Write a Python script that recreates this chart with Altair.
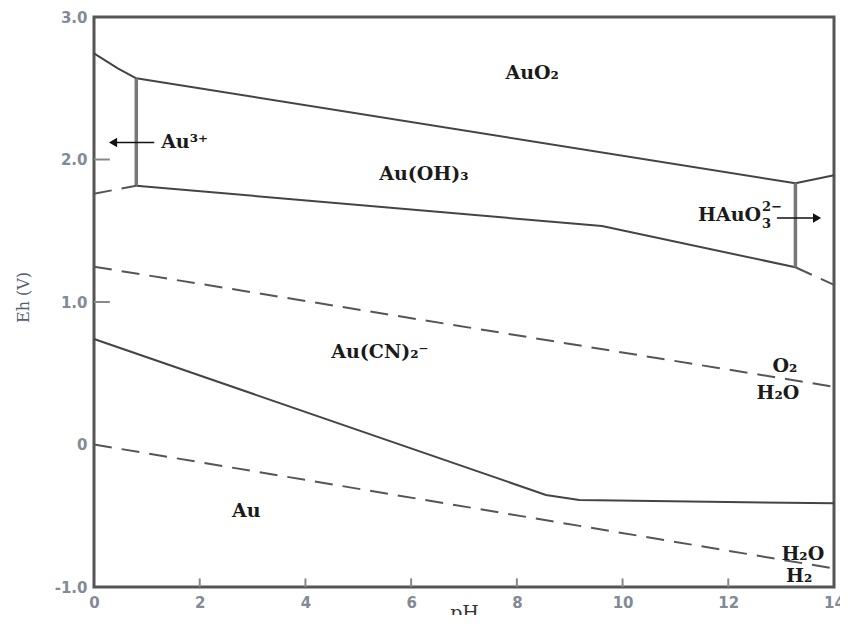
import altair as alt
import pandas as pd

# ---- data ----
x_ticks = [0, 2, 4, 6, 8, 10, 12, 14]
y_ticks = [-1.0, 0.0, 1.0, 2.0, 3.0]
inner_x_ticks = [2, 4, 6, 8, 10, 12]
inner_y_ticks = [1.0, 2.0]

# solid boundaries
solid_lines = {
    "Au3+/AuO2": ([0.0, 0.45, 0.8], [2.745, 2.64, 2.57]),
    "AuOH3/AuO2": ([0.8, 13.27], [2.57, 1.833]),
    "HAuO3/AuO2": ([13.27, 14.0], [1.833, 1.89]),
    "AuOH3/AuCN2": ([0.8, 9.61, 13.27], [1.816, 1.533, 1.244]),
    "AuCN2/Au": ([0.0, 8.55, 9.18, 14.0], [0.74, -0.354, -0.389, -0.413]),
}
# vertical boundaries
vertical_lines = {
    "Au3+/AuOH3": ([0.8, 0.8], [2.57, 1.816]),
    "AuOH3/HAuO3": ([13.27, 13.27], [1.833, 1.244]),
}
# dashed lines
dashed_lines = {
    "Au3+/Au": ([0.0, 0.8], [1.76, 1.816]),
    "HAuO3/Au": ([13.27, 14.0], [1.244, 1.12]),
    "O2/H2O": ([0.0, 14.0], [1.248, 0.405]),
    "H2O/H2": ([0.0, 14.0], [0.0, -0.87]),
}

center_labels = ["AuO₂", "Au(OH)₃", "Au(CN)₂⁻", "O₂", "H₂O", "Au", "H₂O", "H₂"]
center_ph = [8.29, 6.24, 5.41, 13.07, 12.94, 2.88, 13.41, 13.34]
center_eh = [2.61, 1.90, 0.65, 0.55, 0.36, -0.47, -0.77, -0.92]

left_labels = ["Au³⁺"]
left_ph = [1.27]
left_eh = [2.12]

hauo_main = ["HAuO"]
hauo_ph = [12.62]
hauo_eh = [1.61]
hauo_small = ["2−", "3"]
hauo_small_ph = [12.64, 12.64]
hauo_small_eh = [1.667, 1.547]

arrow_shaft_ph = [1.14, 0.42, 12.92, 13.62]
arrow_shaft_eh = [2.12, 2.12, 1.59, 1.59]
arrow_id = ["a", "a", "b", "b"]
arrow_head_ph = [0.36, 13.68]
arrow_head_eh = [2.12, 1.59]
arrow_head_shape = ["triangle-left", "triangle-right"]


def to_frame(d):
    rows = []
    for name, (xs, ys) in d.items():
        for i, (a, b) in enumerate(zip(xs, ys)):
            rows.append({"seg": name, "pH": a, "Eh": b, "ord": i})
    return pd.DataFrame(rows)


x_scale = alt.Scale(domain=[0, 14], nice=False, zero=False)
y_scale = alt.Scale(domain=[-1, 3], nice=False, zero=False)

X = alt.X("pH:Q", scale=x_scale,
          axis=alt.Axis(title="pH", values=x_ticks, grid=False, ticks=False, domain=False,
                        labelFont="DejaVu Sans", labelFontWeight="bold", labelFontSize=15,
                        labelColor="#828a96", labelPadding=8, labelFlush=False,
                        titleFont="DejaVu Serif", titleFontSize=19, titleColor="#333333",
                        titleFontWeight="normal", titleBaseline="top", titleY=16))
Y = alt.Y("Eh:Q", scale=y_scale,
          axis=alt.Axis(title="Eh (V)", values=y_ticks, grid=False, ticks=False, domain=False,
                        labelExpr="datum.value == 0 ? '0' : (datum.value < 0 ? '-' : '') + format(abs(datum.value), '.1f')",
                        labelFont="DejaVu Sans", labelFontWeight="bold", labelFontSize=15,
                        labelColor="#828a96", labelPadding=7, labelFlush=False,
                        titleFont="DejaVu Serif", titleFontSize=16, titleColor="#555f70",
                        titleFontWeight="normal", titleX=-63, titleY=280))

solid = alt.Chart(to_frame(solid_lines)).mark_line(color="#444444", strokeWidth=2).encode(
    x=X, y=Y, detail="seg:N", order="ord:Q")
vert = alt.Chart(to_frame(vertical_lines)).mark_line(color="#777777", strokeWidth=3.5).encode(
    x="pH:Q", y="Eh:Q", detail="seg:N", order="ord:Q")
dashed = alt.Chart(to_frame(dashed_lines)).mark_line(color="#555555", strokeWidth=2,
                                                     strokeDash=[18, 10]).encode(
    x="pH:Q", y="Eh:Q", detail="seg:N", order="ord:Q")

xt = pd.DataFrame({"pH": inner_x_ticks, "y0": -1.0, "y1": -0.94})
xtick = alt.Chart(xt).mark_rule(color="#888888", strokeWidth=2).encode(
    x="pH:Q", y="y0:Q", y2="y1:Q")
yt = pd.DataFrame({"Eh": inner_y_ticks, "x0": 0.0, "x1": 0.3})
ytick = alt.Chart(yt).mark_rule(color="#888888", strokeWidth=2).encode(
    y="Eh:Q", x="x0:Q", x2="x1:Q")

arrows = alt.Chart(pd.DataFrame({"pH": arrow_shaft_ph, "Eh": arrow_shaft_eh, "id": arrow_id})).mark_line(
    color="#111111", strokeWidth=1.5).encode(x="pH:Q", y="Eh:Q", detail="id:N")
heads = alt.Chart(pd.DataFrame({"pH": arrow_head_ph, "Eh": arrow_head_eh, "shape": arrow_head_shape})).mark_point(
    filled=True, color="#111111", size=90, opacity=1).encode(
    x="pH:Q", y="Eh:Q", shape=alt.Shape("shape:N", scale=None))

font = dict(font="DejaVu Serif", fontWeight="bold", color="#1a1a1a")
t_center = alt.Chart(pd.DataFrame({"t": center_labels, "pH": center_ph, "Eh": center_eh})).mark_text(
    align="center", baseline="middle", fontSize=19, **font).encode(x="pH:Q", y="Eh:Q", text="t:N")
t_left = alt.Chart(pd.DataFrame({"t": left_labels, "pH": left_ph, "Eh": left_eh})).mark_text(
    align="left", baseline="middle", fontSize=19, **font).encode(x="pH:Q", y="Eh:Q", text="t:N")
t_hauo = alt.Chart(pd.DataFrame({"t": hauo_main, "pH": hauo_ph, "Eh": hauo_eh})).mark_text(
    align="right", baseline="middle", fontSize=19, **font).encode(x="pH:Q", y="Eh:Q", text="t:N")
t_hauo_s = alt.Chart(pd.DataFrame({"t": hauo_small, "pH": hauo_small_ph, "Eh": hauo_small_eh})).mark_text(
    align="left", baseline="middle", fontSize=13, **font).encode(x="pH:Q", y="Eh:Q", text="t:N")

chart = alt.layer(solid, vert, dashed, xtick, ytick, arrows, heads,
                  t_center, t_left, t_hauo, t_hauo_s).properties(
    width=740, height=570,
    background="white",
    autosize=alt.AutoSizeParams(type="none"),
    padding={"left": 86, "top": 9, "right": 6, "bottom": 28},
).configure_view(stroke="#555555", strokeWidth=3)

chart.save("out.html", embed_options={"renderer": "svg", "actions": False})
